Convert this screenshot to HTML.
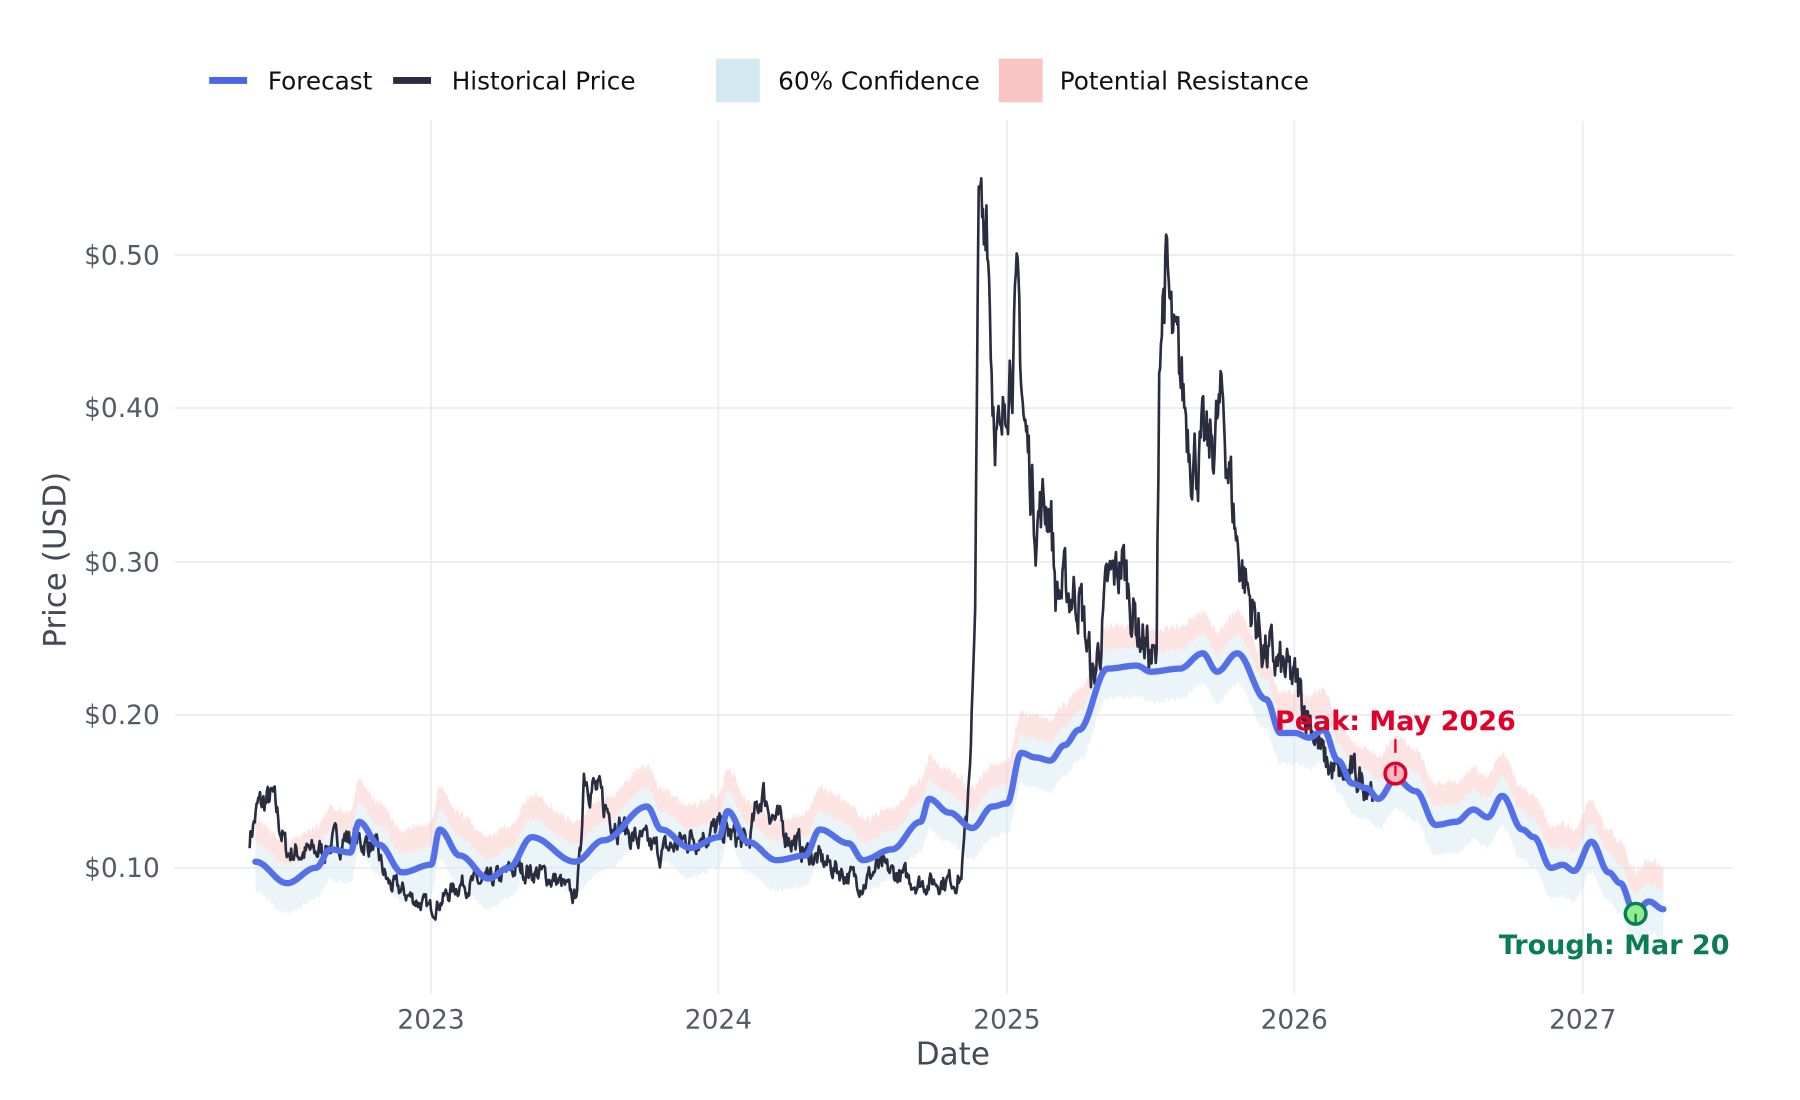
<!DOCTYPE html>
<html><head><meta charset="utf-8"><style>
html,body{margin:0;padding:0;background:#fff;width:1800px;height:1100px;overflow:hidden}
svg{display:block}
text{font-family:"DejaVu Sans","Liberation Sans",sans-serif}
</style></head><body>
<svg id="s" width="1800" height="1100" viewBox="0 0 1566 957" preserveAspectRatio="none" xmlns="http://www.w3.org/2000/svg">
<g stroke="#e9ecf0" stroke-width="1.5">
<line x1="375" y1="105" x2="375" y2="865"/><line x1="625" y1="105" x2="625" y2="865"/><line x1="876" y1="105" x2="876" y2="865"/><line x1="1126" y1="105" x2="1126" y2="865"/><line x1="1377" y1="105" x2="1377" y2="865"/>
<line x1="152" y1="755" x2="1508" y2="755"/><line x1="152" y1="622" x2="1508" y2="622"/><line x1="152" y1="489" x2="1508" y2="489"/><line x1="152" y1="355" x2="1508" y2="355"/><line x1="152" y1="222" x2="1508" y2="222"/>
</g>
<g fill="#555b66" font-size="23" text-anchor="end">
<text x="139" y="763">$0.10</text><text x="139" y="630">$0.20</text><text x="139" y="497">$0.30</text><text x="139" y="363">$0.40</text><text x="139" y="230">$0.50</text>
</g>
<g fill="#555b66" font-size="23" text-anchor="middle">
<text x="375" y="895">2023</text><text x="625" y="895">2024</text><text x="876" y="895">2025</text><text x="1126" y="895">2026</text><text x="1377" y="895">2027</text>
</g>
<text x="829" y="926" font-size="27" fill="#444a55" text-anchor="middle">Date</text>
<text transform="translate(57,487) rotate(-90)" font-size="27" fill="#444a55" text-anchor="middle">Price (USD)</text>
<g id="bands"></g>
<path id="hist" fill="none" stroke="#2a2d40" stroke-width="2.3" stroke-linejoin="round"/>
<path id="fc" fill="none" stroke="#5470e8" stroke-width="5.5" stroke-linejoin="round" stroke-linecap="round"/>
<line x1="1214" y1="643" x2="1214" y2="655" stroke="#e0002a" stroke-width="2"/>
<circle cx="1214" cy="673" r="9" fill="#ffb6c1" stroke="#e0002a" stroke-width="3"/>
<line x1="1214" y1="666" x2="1214" y2="675" stroke="#e0002a" stroke-width="2"/>
<text x="1214" y="635" font-size="23.5" font-weight="bold" fill="#e0002a" text-anchor="middle">Peak: May 2026</text>
<circle cx="1423" cy="795" r="9" fill="#90ee90" stroke="#0a7d55" stroke-width="3"/>
<line x1="1423" y1="795" x2="1423" y2="804" stroke="#0a7d55" stroke-width="2"/>
<text x="1304" y="830" font-size="23.5" font-weight="bold" fill="#0a7d55">Trough: Mar 20</text>
<rect x="182" y="67" width="33" height="6" fill="#4a66e8"/>
<text x="233" y="78" font-size="21.5" fill="#111">Forecast</text>
<rect x="342" y="67" width="33" height="6" fill="#2a2d40"/>
<text x="393" y="78" font-size="21.5" fill="#111">Historical Price</text>
<rect x="623" y="51" width="38" height="38" fill="#d3e9f1"/>
<text x="677" y="78" font-size="21.5" fill="#111">60% Confidence</text>
<rect x="869" y="51" width="38" height="38" fill="#f9c4c2"/>
<text x="922" y="78" font-size="21.5" fill="#111">Potential Resistance</text>
</svg>
<script>
function X(t){return 375+(t-2023)*250.5}
function Y(v){return 755-(v-0.1)*1333}
var seed=7;function rnd(){seed=(seed*16807)%2147483647;return seed/2147483647}
function interp(k,t){for(var i=0;i<k.length-1;i++){if(t>=k[i][0]&&t<=k[i+1][0]){var f=(t-k[i][0])/(k[i+1][0]-k[i][0]);f=(1-Math.cos(f*Math.PI))/2;return k[i][1]+f*(k[i+1][1]-k[i][1])}}return k[k.length-1][1]}
function lin(k,t){for(var i=0;i<k.length-1;i++){if(t>=k[i][0]&&t<=k[i+1][0]){var f=(t-k[i][0])/(k[i+1][0]-k[i][0]);return k[i][1]+f*(k[i+1][1]-k[i][1])}}return k[k.length-1][1]}
var H=[[2022.37,0.12],[2022.4,0.14],[2022.45,0.145],[2022.5,0.11],[2022.6,0.11],[2022.7,0.12],[2022.8,0.115],[2022.85,0.09],[2023.0,0.073],[2023.1,0.09],[2023.2,0.09],[2023.3,0.10],[2023.4,0.095],[2023.45,0.09],[2023.5,0.08],[2023.52,0.11],[2023.53,0.165],[2023.6,0.14],[2023.7,0.12],[2023.8,0.11],[2023.9,0.12],[2024.0,0.125],[2024.1,0.115],[2024.15,0.15],[2024.2,0.13],[2024.3,0.11],[2024.4,0.10],[2024.5,0.09],[2024.55,0.10],[2024.7,0.09],[2024.84,0.093],[2024.86,0.13],[2024.88,0.21],[2024.89,0.25],[2024.9,0.53],[2024.92,0.50],[2024.93,0.55],[2024.95,0.42],[2024.98,0.36],[2025.0,0.43],[2025.04,0.46],[2025.06,0.39],[2025.1,0.33],[2025.15,0.34],[2025.17,0.28],[2025.25,0.28],[2025.3,0.22],[2025.35,0.28],[2025.4,0.30],[2025.45,0.26],[2025.52,0.23],[2025.53,0.45],[2025.55,0.49],[2025.58,0.43],[2025.6,0.42],[2025.65,0.37],[2025.7,0.37],[2025.75,0.40],[2025.8,0.31],[2025.85,0.27],[2025.9,0.24],[2026.0,0.22],[2026.05,0.20],[2026.1,0.17],[2026.15,0.16],[2026.2,0.16],[2026.27,0.155]];
var F=[[2022.39,0.104],[2022.5,0.09],[2022.6,0.10],[2022.65,0.112],[2022.72,0.11],[2022.75,0.13],[2022.82,0.115],[2022.9,0.097],[2023.0,0.102],[2023.03,0.125],[2023.1,0.108],[2023.2,0.093],[2023.27,0.10],[2023.35,0.12],[2023.5,0.104],[2023.6,0.118],[2023.75,0.14],[2023.8,0.125],[2023.9,0.113],[2024.0,0.12],[2024.03,0.137],[2024.1,0.117],[2024.2,0.105],[2024.3,0.108],[2024.35,0.125],[2024.45,0.116],[2024.5,0.105],[2024.6,0.112],[2024.7,0.13],[2024.73,0.145],[2024.8,0.136],[2024.88,0.126],[2024.95,0.14],[2025.0,0.142],[2025.05,0.175],[2025.1,0.172],[2025.15,0.17],[2025.2,0.18],[2025.25,0.19],[2025.35,0.23],[2025.45,0.232],[2025.5,0.228],[2025.6,0.23],[2025.68,0.24],[2025.73,0.228],[2025.8,0.24],[2025.9,0.21],[2025.95,0.188],[2026.0,0.188],[2026.05,0.185],[2026.1,0.19],[2026.15,0.17],[2026.2,0.155],[2026.25,0.152],[2026.29,0.145],[2026.35,0.158],[2026.42,0.15],[2026.49,0.128],[2026.56,0.13],[2026.62,0.138],[2026.67,0.133],[2026.72,0.147],[2026.79,0.125],[2026.83,0.12],[2026.89,0.10],[2026.93,0.102],[2026.97,0.098],[2027.03,0.117],[2027.09,0.097],[2027.13,0.09],[2027.18,0.071],[2027.23,0.078],[2027.28,0.073]];
var d="",t,v,w=0;
for(t=2022.37;t<=2026.27;t+=0.003){v=lin(H,t);w=0.6*w+(rnd()-0.5)*0.12;v*=1+w;d+=(d?"L":"M")+X(t).toFixed(1)+","+Y(v).toFixed(1)}
document.getElementById("hist").setAttribute("d",d);
var fd="",up=[],lo=[],r1=[],r2=[];
for(t=2022.39;t<=2027.28;t+=0.003){v=interp(F,t);var x=X(t).toFixed(1);fd+=(fd?"L":"M")+x+","+Y(v).toFixed(1);
var n=(rnd()-0.5)*0.004;up.push(x+","+Y(v+0.012+n).toFixed(1));lo.push(x+","+Y(v-0.02+n).toFixed(1));
r1.push(x+","+Y(v+0.012+n).toFixed(1));r2.push(x+","+Y(v+0.027+n+(rnd()-0.5)*0.004).toFixed(1));}
document.getElementById("fc").setAttribute("d",fd);
var b=document.getElementById("bands");
b.innerHTML='<path d="M'+up.join("L")+"L"+lo.reverse().join("L")+'Z" fill="#d3e9f1" opacity="0.45"/>'+
'<path d="M'+r2.join("L")+"L"+r1.reverse().join("L")+'Z" fill="#f9c4c2" opacity="0.45"/>';
</script>
</body></html>
